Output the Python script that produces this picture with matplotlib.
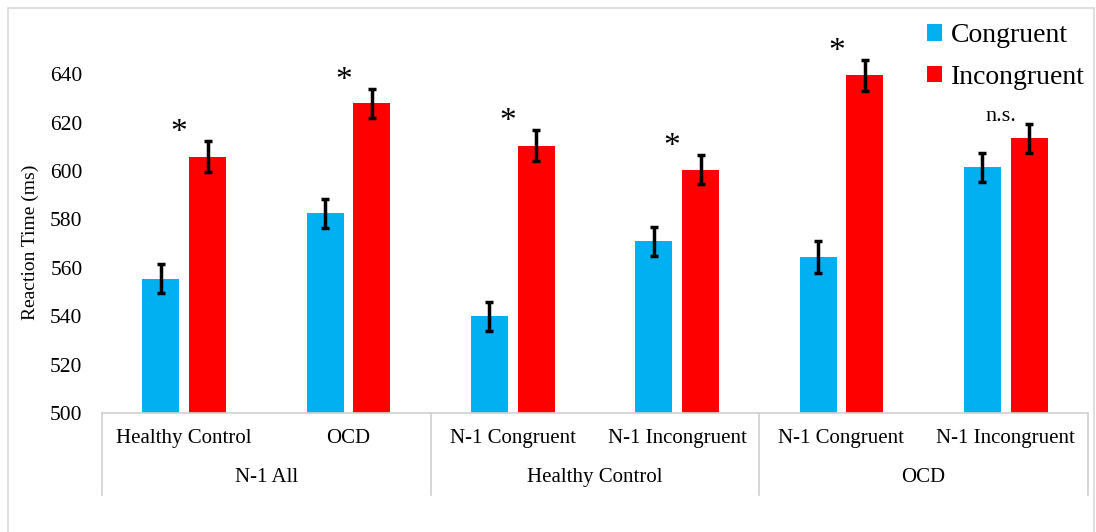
import matplotlib.pyplot as plt
import numpy as np
from matplotlib.patches import Patch, Rectangle

plt.rcParams["font.family"] = ["Liberation Serif", "DejaVu Serif"]

## Data ##
categories = ["Healthy Control", "OCD", "N-1 Congruent", "N-1 Incongruent",
              "N-1 Congruent", "N-1 Incongruent"]
groups = ["N-1 All", "Healthy Control", "OCD"]
congruent = [555.5, 582.5, 540, 571, 564.5, 601.5]
incongruent = [606, 628, 610.5, 600.5, 639.5, 613.5]
congruent_err = [6, 6, 6, 6, 6.5, 6]
incongruent_err = [6.5, 6, 6.5, 6, 6.5, 6]
sig_labels = ["*", "*", "*", "*", "*", "n.s."]

blue = "#00b0f0"
red = "#ff0000"

fig = plt.figure(figsize=(10.96, 5.32), dpi=100)
fig.patches.append(Rectangle((8 / 1096, -0.01), 1086 / 1096, 1 - 8 / 532 + 0.01,
                             transform=fig.transFigure, fill=False,
                             edgecolor="#d9d9d9", linewidth=1.2))
ax = fig.add_axes([102 / 1096, 1 - 413 / 532, 986 / 1096, 375 / 532])

x = np.arange(len(categories))
w = 0.225
off = 0.142
err_kw = dict(ecolor="black", elinewidth=2.5, capsize=3, capthick=2.5)
ax.bar(x - off, congruent, w, color=blue, yerr=congruent_err,
       error_kw=err_kw, label="Congruent")
ax.bar(x + off, incongruent, w, color=red, yerr=incongruent_err,
       error_kw=err_kw, label="Incongruent")

# significance marks
for i, lab in enumerate(sig_labels):
    top = incongruent[i] + incongruent_err[i]
    if lab == "*":
        ax.text(i - 0.03, top, lab, ha="center", va="baseline", fontsize=24)
    else:
        ax.text(i - 0.03, top + 1, lab, ha="center", va="baseline", fontsize=16)

ax.set_ylim(500, 655)
ax.set_xlim(-0.5, len(categories) - 0.5)
ax.set_yticks(np.arange(500, 641, 20))
ax.tick_params(axis="y", length=0, labelsize=15.5, pad=14)
ax.set_xticks([])
ax.set_ylabel("Reaction Time (ms)", fontsize=14, labelpad=10)
ax.yaxis.set_label_coords(-0.064, 0.455)
for s in ["top", "right", "left"]:
    ax.spines[s].set_visible(False)
ax.spines["bottom"].set_color("#d0d0d0")
ax.spines["bottom"].set_linewidth(1.2)

# multi-level category axis
tr = ax.get_xaxis_transform()
for i, c in enumerate(categories):
    ax.text(i, -0.067, c, transform=tr, ha="center", va="center", fontsize=15)
for g, name in enumerate(groups):
    ax.text(2 * g + 0.5, -0.173, name, transform=tr, ha="center", va="center",
            fontsize=15)
for sx in [-0.5, 1.5, 3.5, 5.5]:
    ax.plot([sx, sx], [0, -0.219], transform=tr, color="#d0d0d0",
            linewidth=1.2, clip_on=False)

handles = [Patch(facecolor=blue), Patch(facecolor=red)]
fig.legend(handles, ["Congruent", "Incongruent"], loc="upper left",
           bbox_to_anchor=(916 / 1096, 1 - 12 / 532), frameon=False,
           fontsize=20, handlelength=0.55, handleheight=0.55, handletextpad=0.3,
           labelspacing=0.6, borderaxespad=0)

fig.savefig("out.png", dpi=100)
